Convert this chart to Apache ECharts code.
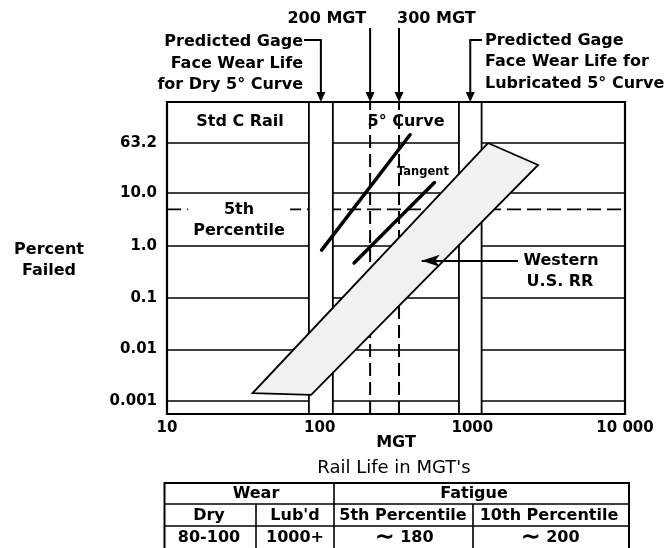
<!DOCTYPE html>
<html><head><meta charset="utf-8">
<script src="https://cdn.jsdelivr.net/npm/echarts@6/dist/echarts.min.js"></script>
<style>html,body{margin:0;padding:0;background:#fff}#c{width:671px;height:548px}</style>
</head><body><div id="c"></div>
<script>
// ---------- data ----------
const xTickValues = [10, 100, 1000, 10000];
const xTickLabels = ['10', '100', '1000', '10 000'];
const yTickPercents = [63.2, 10, 1, 0.1, 0.01, 0.001];
const yTickLabels = ['63.2', '10.0', '1.0', '0.1', '0.01', '0.001'];
// predicted gage face wear life bands (MGT): dry 5° curve, lubricated 5° curve
const wearBandStart = [85, 817];
const wearBandEnd = [122, 1150];
// fatigue reference lines ("200 MGT", "300 MGT")
const fatigueRefMGT = [214, 331];
const fatigueRefLabels = ['200 MGT', '300 MGT'];
const fifthPercentile = 5;
// 5° curve line
const curveMGT = [103, 391];
const curvePct = [0.83, 76];
// tangent line
const tangentMGT = [168, 565];
const tangentPct = [0.47, 15.6];
// Western U.S. RR band (polygon vertices)
const westernMGT = [36.4, 87.9, 2697, 1266];
const westernPct = [0.00143, 0.00132, 31, 62.7];
// arrow to the Western band
const westernArrowMGT = [1990, 466];
const westernArrowPct = 0.52;
// table
const tableTitle = "Rail Life in MGT's";
const tableGroupHeaders = ['Wear', 'Fatigue'];
const tableHeaders = ['Dry', "Lub'd", '5th Percentile', '10th Percentile'];
const tableValues = ['80-100', '1000+', '{t|\u223C} 180', '{t|\u223C} 200'];

// ---------- helpers ----------
const FONT = '"DejaVu Sans"';
const W = p => Math.log(-Math.log(1 - p / 100)); // Weibull probability scale
const Y_MAX = 1.815, Y_MIN = -12.09;
const yTickW = yTickPercents.map(W);

const chart = echarts.init(document.getElementById('c'), null, {renderer: 'canvas'});

const option = {
  animation: false,
  textStyle: {fontFamily: 'DejaVu Sans'},
  grid: {left: 167, right: 46, top: 102, bottom: 134, show: true, borderColor: '#000', borderWidth: 2.2, backgroundColor: 'transparent'},
  xAxis: {
    type: 'log', logBase: 10, min: 10, max: 10000,
    axisLine: {show: false}, axisTick: {show: false}, splitLine: {show: false}, minorTick: {show: false},
    axisLabel: {
      color: '#000', fontFamily: 'DejaVu Sans', fontWeight: 'bold', fontSize: 15, margin: 7,
      showMinLabel: true, showMaxLabel: true,
      formatter: v => {
        let best = 0, d = Infinity;
        xTickValues.forEach((t, i) => { const e = Math.abs(Math.log10(v) - Math.log10(t)); if (e < d) { d = e; best = i; } });
        return xTickLabels[best];
      }
    },
    name: 'MGT', nameLocation: 'middle', nameGap: 21, nameMoveOverlap: false,
    nameTextStyle: {color: '#000', fontFamily: 'DejaVu Sans', fontWeight: 'bold', fontSize: 16}
  },
  yAxis: {
    type: 'value', min: Y_MIN, max: Y_MAX,
    axisLine: {show: false},
    axisTick: {show: false, customValues: yTickW},
    axisLabel: {
      customValues: yTickW, color: '#000', fontFamily: 'DejaVu Sans', fontWeight: 'bold', fontSize: 15, margin: 10,
      formatter: v => {
        let best = 0, d = Infinity;
        yTickW.forEach((t, i) => { const e = Math.abs(v - t); if (e < d) { d = e; best = i; } });
        return yTickLabels[best];
      }
    },
    splitLine: {show: true, lineStyle: {color: '#000', width: 1.6}}
  },
  series: [
    { // 5th percentile dashed line
      type: 'line', z: 2, silent: true, symbol: 'none',
      data: [[xTickValues[0], W(fifthPercentile)], [xTickValues[xTickValues.length - 1], W(fifthPercentile)]],
      lineStyle: {color: '#000', width: 1.8, type: [14, 6]}
    },
    { // wear life bands
      type: 'custom', z: 3, silent: true,
      dimensions: ['start', 'end'], encode: {x: [0, 1]},
      data: wearBandStart.map((s, i) => [s, wearBandEnd[i]]),
      renderItem: (params, api) => {
        const a = api.coord([api.value(0), Y_MAX]);
        const b = api.coord([api.value(1), Y_MIN]);
        return {type: 'group', children: [
          {type: 'rect', shape: {x: a[0], y: a[1] + 1, width: b[0] - a[0], height: b[1] - a[1] - 2}, style: {fill: '#fff'}},
          {type: 'line', shape: {x1: a[0], y1: a[1], x2: a[0], y2: b[1]}, style: {stroke: '#000', lineWidth: 1.8}},
          {type: 'line', shape: {x1: b[0], y1: a[1], x2: b[0], y2: b[1]}, style: {stroke: '#000', lineWidth: 1.8}}
        ]};
      }
    },
    ...fatigueRefMGT.map(v => ({
      type: 'line', z: 4, silent: true, symbol: 'none',
      data: [[v, Y_MIN], [v, Y_MAX]],
      lineStyle: {color: '#000', width: 2, type: [13, 6]}
    })),
    { // Western U.S. RR band
      type: 'custom', z: 5, silent: true,
      data: westernMGT.map((x, i) => [x, W(westernPct[i])]),
      renderItem: (params, api) => {
        if (params.dataIndex !== 0) return null;
        const pts = westernMGT.map((x, i) => api.coord([x, W(westernPct[i])]));
        return {type: 'polygon', shape: {points: pts}, style: {fill: '#f1f1f1', stroke: '#000', lineWidth: 1.8, lineJoin: 'miter'}};
      }
    },
    {
      type: 'line', z: 6, silent: true, symbol: 'none',
      data: curveMGT.map((x, i) => [x, W(curvePct[i])]),
      lineStyle: {color: '#000', width: 3.5, cap: 'round'}
    },
    {
      type: 'line', z: 6, silent: true, symbol: 'none',
      data: tangentMGT.map((x, i) => [x, W(tangentPct[i])]),
      lineStyle: {color: '#000', width: 3.5, cap: 'round'}
    },
    {
      type: 'line', z: 7, silent: true, symbol: 'none', data: [],
      markLine: {
        silent: true, z: 7, animation: false,
        symbol: ['none', 'arrow'], symbolSize: [9, 18],
        label: {show: false},
        lineStyle: {color: '#000', width: 2.2, type: 'solid'},
        data: [[{coord: [westernArrowMGT[0], W(westernArrowPct)]}, {coord: [westernArrowMGT[1], W(westernArrowPct)]}]]
      }
    }
  ]
};
chart.setOption(option);

// ---------- annotations ----------
const toPx = (x, y) => chart.convertToPixel({gridIndex: 0}, [x, y]);
const topY = toPx(10, Y_MAX)[1];
const els = [];
function txt(s, x, y, o) {
  els.push({type: 'text', x: x, y: y, z: 10, silent: true, style: Object.assign({
    text: s, font: 'bold 16px ' + FONT, fill: '#000',
    textAlign: 'center', textVerticalAlign: 'middle', align: 'center', verticalAlign: 'middle'
  }, o || {})});
}
function ln(x1, y1, x2, y2, w) {
  els.push({type: 'line', z: 10, silent: true, shape: {x1, y1, x2, y2}, style: {stroke: '#000', lineWidth: w || 2}});
}
function arrowDown(x, y0, y1) {
  ln(x, y0, x, y1 - 8, 2);
  els.push({type: 'polygon', z: 10, silent: true, shape: {points: [[x - 4.5, y1 - 10], [x + 4.5, y1 - 10], [x, y1]]}, style: {fill: '#000'}});
}

// left axis title
txt('Percent', 49, 250);
txt('Failed', 49, 271);

// top annotations
const xDry = toPx(Math.sqrt(wearBandStart[0] * wearBandEnd[0]), 0)[0];
const xLub = toPx(Math.sqrt(wearBandStart[1] * wearBandEnd[1]), 0)[0];
const x200 = toPx(fatigueRefMGT[0], 0)[0];
const x300 = toPx(fatigueRefMGT[1], 0)[0];
txt(fatigueRefLabels[0], x200 - 4, 19, {textAlign: 'right', align: 'right'});
txt(fatigueRefLabels[1], x300 - 2, 19, {textAlign: 'left', align: 'left'});
arrowDown(x200, 28, topY);
arrowDown(x300, 28, topY);

txt('Predicted Gage', 303, 42, {textAlign: 'right', align: 'right'});
txt('Face Wear Life', 303, 64, {textAlign: 'right', align: 'right'});
txt('for Dry 5\u00B0 Curve', 303, 85, {textAlign: 'right', align: 'right'});
ln(304, 40, xDry + 1, 40, 2);
arrowDown(xDry, 40, topY);

txt('Predicted Gage', 485, 41, {textAlign: 'left', align: 'left'});
txt('Face Wear Life for', 485, 62, {textAlign: 'left', align: 'left'});
txt('Lubricated 5\u00B0 Curve', 485, 84, {textAlign: 'left', align: 'left'});
ln(xLub - 1, 40, 482, 40, 2);
arrowDown(xLub, 40, topY);

// in-plot labels
txt('Std C Rail', 240, 122);
txt('5\u00B0 Curve', 406, 122);
txt('Tangent', 423, 172, {font: 'bold 11.5px ' + FONT});
const y5 = toPx(10, W(fifthPercentile))[1];
txt('5th', 239, y5, {backgroundColor: '#fff', padding: [1, 36, 1, 36]});
txt('Percentile', 239, y5 + 21);
const yArr = toPx(10, W(westernArrowPct))[1];
txt('Western', 561, yArr);
txt('U.S. RR', 560, yArr + 21);

// table
const tL = 164.5, tR = 629, cMid = 334, c1 = 256, c3 = 473;
const r0 = 483, r1 = 504, r2 = 526, rB = 560;
txt(tableTitle, 394, 468, {font: '18px ' + FONT});
ln(tL, r0, tR, r0, 2);
ln(tL, r1, tR, r1, 1.6);
ln(tL, r2, tR, r2, 1.6);
ln(tL, r0 - 1, tL, rB, 2);
ln(tR, r0 - 1, tR, rB, 2);
ln(cMid, r0, cMid, rB, 1.6);
ln(c1, r1, c1, rB, 1.6);
ln(c3, r1, c3, rB, 1.6);
const f16 = {font: 'bold 16px ' + FONT};
txt(tableGroupHeaders[0], 256, 493.5, f16);
txt(tableGroupHeaders[1], 474, 493.5, f16);
const colCenters = [209, 295, 403, 549];
tableHeaders.forEach((h, i) => txt(h, colCenters[i], 515.5, f16));
tableValues.forEach((h, i) => txt(h, colCenters[i] + (i >= 2 ? 1 : 0), 537.5,
  Object.assign({rich: {t: {font: 'bold 24px ' + FONT, fill: '#000', verticalAlign: 'middle'}}}, f16)));

chart.setOption({graphic: {elements: els}});
</script>
</body></html>
